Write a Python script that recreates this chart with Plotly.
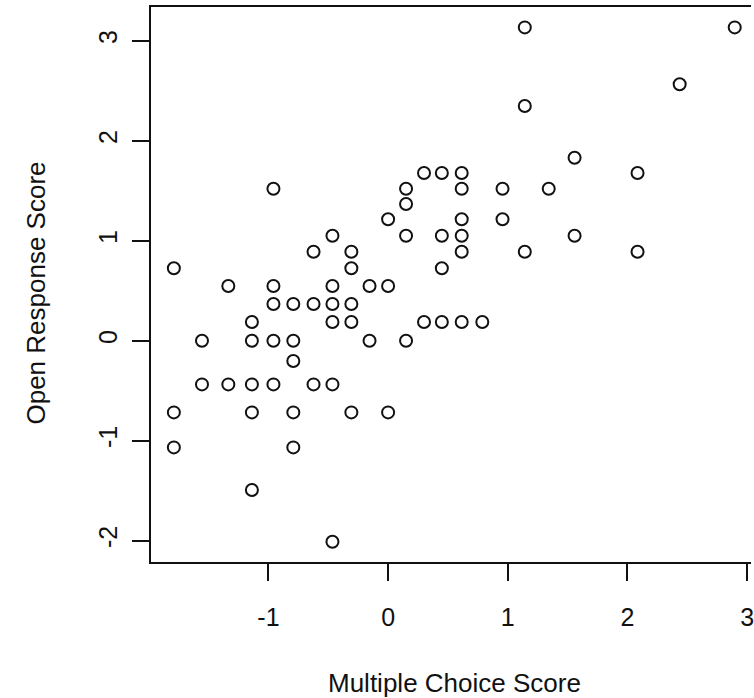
import plotly.graph_objects as go

# Data (Multiple Choice Score vs Open Response Score)
mc_score = [
    -0.958, 0.30, 0.449, 0.615, 2.084,
    0.15, 0.615, 0.956, 1.342,
    0.15,
    0.0, 0.615, 0.956,
    -0.465, 0.15, 0.449, 0.615, 1.558,
    -0.623, -0.307, 0.615, 1.142, 2.084,
    -1.79, -0.307, 0.449,
    -1.335, -0.958, -0.465, -0.155, 0.0,
    -0.958, -0.792, -0.623, -0.465, -0.307,
    -1.138, -0.465, -0.307, 0.30, 0.449, 0.615, 0.787,
    -1.555, -1.138, -0.958, -0.792, -0.155, 0.15,
    -0.792,
    -1.555, -1.335, -1.138, -0.958, -0.623, -0.465,
    -1.79, -1.138, -0.792, -0.307, 0.0,
    -1.79, -0.792,
    -1.138,
    -0.465,
    1.142, 2.896, 2.436, 1.142, 1.558,
]
or_score = [
    1.52, 1.677, 1.677, 1.677, 1.677,
    1.52, 1.52, 1.52, 1.52,
    1.367,
    1.214, 1.214, 1.214,
    1.05, 1.05, 1.05, 1.05, 1.05,
    0.89, 0.89, 0.89, 0.89, 0.89,
    0.724, 0.724, 0.724,
    0.547, 0.547, 0.547, 0.547, 0.547,
    0.367, 0.367, 0.367, 0.367, 0.367,
    0.187, 0.187, 0.187, 0.187, 0.187, 0.187, 0.187,
    0.0, 0.0, 0.0, 0.0, 0.0, 0.0,
    -0.203,
    -0.437, -0.437, -0.437, -0.437, -0.437, -0.437,
    -0.717, -0.717, -0.717, -0.717, -0.717,
    -1.067, -1.067,
    -1.493,
    -2.01,
    3.133, 3.133, 2.564, 2.347, 1.83,
]

x_ticks = [-1, 0, 1, 2, 3]
y_ticks = [-2, -1, 0, 1, 2, 3]
x_title = "Multiple Choice Score"
y_title = "Open Response Score"

FONT = "Liberation Sans, Arial, sans-serif"
INK = "#111111"

fig = go.Figure(
    go.Scatter(
        x=mc_score,
        y=or_score,
        mode="markers",
        marker=dict(symbol="circle-open", size=12, color=INK,
                    line=dict(width=2, color=INK)),
        showlegend=False,
        hoverinfo="x+y",
    )
)

fig.update_layout(
    width=754,
    height=698,
    margin=dict(l=151, r=0, t=7, b=136),
    paper_bgcolor="white",
    plot_bgcolor="white",
    font=dict(family=FONT, size=25, color=INK),
    xaxis=dict(
        range=[-1.981, 3.032],
        tickvals=x_ticks,
        ticktext=[str(v) for v in x_ticks],
        showgrid=False,
        zeroline=False,
        showline=True,
        linecolor=INK,
        linewidth=2,
        mirror=True,
        ticks="outside",
        ticklen=17,
        tickwidth=2,
        tickcolor=INK,
        ticklabelstandoff=15,
        ticklabeloverflow="allow",
        tickfont=dict(family=FONT, size=25, color=INK),
    ),
    yaxis=dict(
        range=[-2.213, 3.337],
        tickvals=y_ticks,
        ticktext=[str(v) for v in y_ticks],
        showgrid=False,
        zeroline=False,
        showline=True,
        linecolor=INK,
        linewidth=2,
        mirror=False,
        ticks="outside",
        ticklen=17,
        tickwidth=2,
        tickcolor=INK,
        tickangle=-90,
        ticklabelstandoff=5,
        tickfont=dict(family=FONT, size=25, color=INK),
    ),
    annotations=[
        dict(text=x_title, xref="paper", yref="paper", x=0.5066, y=-0.218,
             xanchor="center", yanchor="middle", showarrow=False,
             font=dict(family=FONT, size=26, color=INK)),
        dict(text=y_title, xref="paper", yref="paper", x=-0.1924, y=0.4847,
             xanchor="center", yanchor="middle", showarrow=False, textangle=-90,
             font=dict(family=FONT, size=26, color=INK)),
    ],
)

fig.write_html(
    "out.html",
    config={"displayModeBar": False},
    post_script="document.body.style.margin='0';document.body.style.overflow='hidden';",
)
